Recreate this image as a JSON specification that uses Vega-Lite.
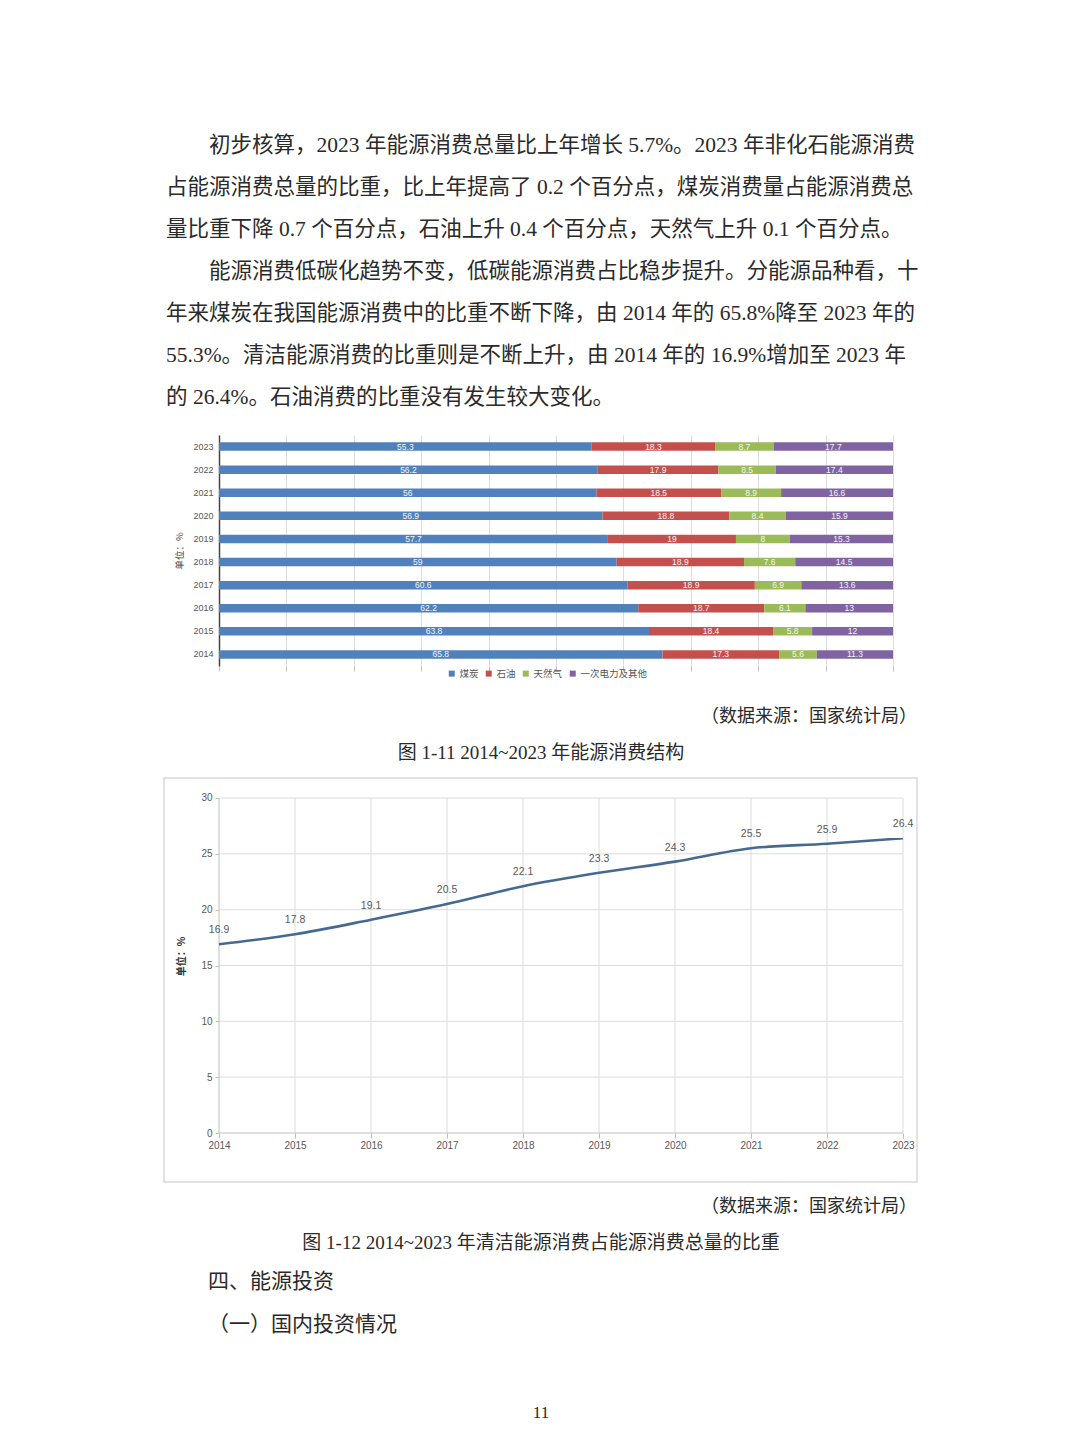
{
  "$schema": "https://vega.github.io/schema/vega-lite/v6.json",
  "background": "white",
  "padding": {"left": 163, "top": 0, "right": 0, "bottom": 0},
  "bounds": "flush",
  "spacing": 0,
  "config": {
    "view": {"stroke": null},
    "font": "Liberation Sans, Noto Sans CJK SC",
    "axis": {"labelFont": "Liberation Sans, Noto Sans CJK SC", "titleFont": "Noto Sans CJK SC"},
    "legend": {"labelFont": "Noto Sans CJK SC"}
  },
  "vconcat": [
    {
      "width": 754,
      "height": 434.5,
      "layer": [
        {
          "data": {"values": [
            {"line": 1, "text": "初步核算，2023 年能源消费总量比上年增长 5.7%。2023 年非化石能源消费"},
            {"line": 4, "text": "能源消费低碳化趋势不变，低碳能源消费占比稳步提升。分能源品种看，十"}
          ]},
          "mark": {"type": "text", "align": "left", "baseline": "middle", "font": "Liberation Serif, Noto Sans CJK SC", "fontSize": 21.5, "color": "#2a2a2a"},
          "encoding": {
            "y": {"field": "line", "type": "ordinal", "axis": null, "scale": {"type": "point", "range": [146, 398], "padding": 0, "domain": [1, 2, 3, 4, 5, 6, 7]}},
            "x": {"value": 45},
            "text": {"field": "text", "type": "nominal"}
          }
        },
        {
          "data": {"values": [
            {"line": 2, "text": "占能源消费总量的比重，比上年提高了 0.2 个百分点，煤炭消费量占能源消费总"},
            {"line": 3, "text": "量比重下降 0.7 个百分点，石油上升 0.4 个百分点，天然气上升 0.1 个百分点。"},
            {"line": 5, "text": "年来煤炭在我国能源消费中的比重不断下降，由 2014 年的 65.8%降至 2023 年的"},
            {"line": 6, "text": "55.3%。清洁能源消费的比重则是不断上升，由 2014 年的 16.9%增加至 2023 年"},
            {"line": 7, "text": "的 26.4%。石油消费的比重没有发生较大变化。"}
          ]},
          "mark": {"type": "text", "align": "left", "baseline": "middle", "font": "Liberation Serif, Noto Sans CJK SC", "fontSize": 21.5, "color": "#2a2a2a"},
          "encoding": {
            "y": {"field": "line", "type": "ordinal", "axis": null},
            "x": {"value": 2},
            "text": {"field": "text", "type": "nominal"}
          }
        }
      ]
    },
    {
      "width": 729,
      "height": 231,
      "data": {"values": [
        {"year": 2023, "type": "煤炭", "idx": 1, "value": 55.3},
        {"year": 2023, "type": "石油", "idx": 2, "value": 18.3},
        {"year": 2023, "type": "天然气", "idx": 3, "value": 8.7},
        {"year": 2023, "type": "一次电力及其他", "idx": 4, "value": 17.7},
        {"year": 2022, "type": "煤炭", "idx": 1, "value": 56.2},
        {"year": 2022, "type": "石油", "idx": 2, "value": 17.9},
        {"year": 2022, "type": "天然气", "idx": 3, "value": 8.5},
        {"year": 2022, "type": "一次电力及其他", "idx": 4, "value": 17.4},
        {"year": 2021, "type": "煤炭", "idx": 1, "value": 56},
        {"year": 2021, "type": "石油", "idx": 2, "value": 18.5},
        {"year": 2021, "type": "天然气", "idx": 3, "value": 8.9},
        {"year": 2021, "type": "一次电力及其他", "idx": 4, "value": 16.6},
        {"year": 2020, "type": "煤炭", "idx": 1, "value": 56.9},
        {"year": 2020, "type": "石油", "idx": 2, "value": 18.8},
        {"year": 2020, "type": "天然气", "idx": 3, "value": 8.4},
        {"year": 2020, "type": "一次电力及其他", "idx": 4, "value": 15.9},
        {"year": 2019, "type": "煤炭", "idx": 1, "value": 57.7},
        {"year": 2019, "type": "石油", "idx": 2, "value": 19},
        {"year": 2019, "type": "天然气", "idx": 3, "value": 8},
        {"year": 2019, "type": "一次电力及其他", "idx": 4, "value": 15.3},
        {"year": 2018, "type": "煤炭", "idx": 1, "value": 59},
        {"year": 2018, "type": "石油", "idx": 2, "value": 18.9},
        {"year": 2018, "type": "天然气", "idx": 3, "value": 7.6},
        {"year": 2018, "type": "一次电力及其他", "idx": 4, "value": 14.5},
        {"year": 2017, "type": "煤炭", "idx": 1, "value": 60.6},
        {"year": 2017, "type": "石油", "idx": 2, "value": 18.9},
        {"year": 2017, "type": "天然气", "idx": 3, "value": 6.9},
        {"year": 2017, "type": "一次电力及其他", "idx": 4, "value": 13.6},
        {"year": 2016, "type": "煤炭", "idx": 1, "value": 62.2},
        {"year": 2016, "type": "石油", "idx": 2, "value": 18.7},
        {"year": 2016, "type": "天然气", "idx": 3, "value": 6.1},
        {"year": 2016, "type": "一次电力及其他", "idx": 4, "value": 13},
        {"year": 2015, "type": "煤炭", "idx": 1, "value": 63.8},
        {"year": 2015, "type": "石油", "idx": 2, "value": 18.4},
        {"year": 2015, "type": "天然气", "idx": 3, "value": 5.8},
        {"year": 2015, "type": "一次电力及其他", "idx": 4, "value": 12},
        {"year": 2014, "type": "煤炭", "idx": 1, "value": 65.8},
        {"year": 2014, "type": "石油", "idx": 2, "value": 17.3},
        {"year": 2014, "type": "天然气", "idx": 3, "value": 5.6},
        {"year": 2014, "type": "一次电力及其他", "idx": 4, "value": 11.3}
      ]},
      "encoding": {
        "y": {
          "field": "year", "type": "ordinal", "sort": "descending",
          "scale": {"paddingInner": 0.63, "paddingOuter": 0.315},
          "axis": {
            "orient": "left", "offset": -55, "domain": true, "domainColor": "#444444", "domainWidth": 1.5,
            "ticks": false, "labelPadding": 6, "labelFontSize": 9, "labelColor": "#555555",
            "title": "单位：%", "titleFontSize": 9.5, "titleColor": "#444444", "titleFontWeight": "normal", "titlePadding": 8
          }
        }
      },
      "layer": [
        {
          "mark": {"type": "bar"},
          "encoding": {
            "x": {
              "field": "value", "type": "quantitative", "stack": "zero",
              "scale": {"domain": [-8.16, 100], "nice": false, "zero": false},
              "axis": {
                "values": [0, 10, 20, 30, 40, 50, 60, 70, 80, 90, 100], "labels": false, "domain": false,
                "ticks": true, "tickColor": "#bfbfbf", "tickSize": 5, "grid": true, "gridColor": "#dddddd", "title": null
              }
            },
            "color": {
              "field": "type", "type": "nominal",
              "scale": {"domain": ["煤炭", "石油", "天然气", "一次电力及其他"], "range": ["#5081BD", "#C4504E", "#9BBB59", "#8064A2"]},
              "legend": {
                "orient": "none", "legendX": 283, "legendY": 668.5, "direction": "horizontal", "title": null, "padding": 0,
                "symbolType": "square", "symbolSize": 36, "symbolStrokeWidth": 0, "labelFontSize": 9.5, "labelColor": "#555555",
                "labelOffset": 3, "columnPadding": 5
              }
            },
            "order": {"field": "idx", "type": "quantitative"}
          }
        },
        {
          "transform": [
            {"stack": "value", "groupby": ["year"], "sort": [{"field": "idx", "order": "ascending"}], "as": ["v0", "v1"]},
            {"fold": ["v0", "v1"], "as": ["edge", "pos"]}
          ],
          "mark": {"type": "text", "color": "#f4f4f4", "fontSize": 8.5, "baseline": "middle", "align": "center"},
          "encoding": {
            "x": {"field": "pos", "aggregate": "mean", "type": "quantitative"},
            "detail": {"field": "type", "type": "nominal"},
            "text": {"field": "value", "type": "nominal"}
          }
        }
      ]
    },
    {
      "width": 754,
      "height": 111.5,
      "layer": [
        {
          "data": {"values": [{"t": "（数据来源：国家统计局）"}]},
          "mark": {"type": "text", "align": "right", "baseline": "middle", "font": "Liberation Serif, Noto Sans CJK SC", "fontSize": 18, "color": "#2a2a2a"},
          "encoding": {"x": {"value": 753}, "y": {"value": 50.5}, "text": {"field": "t", "type": "nominal"}}
        },
        {
          "data": {"values": [{"t": "图 1-11 2014~2023 年能源消费结构"}]},
          "mark": {"type": "text", "align": "center", "baseline": "middle", "font": "Liberation Serif, Noto Sans CJK SC", "fontSize": 19, "color": "#2a2a2a"},
          "encoding": {"x": {"value": 377}, "y": {"value": 86.5}, "text": {"field": "t", "type": "nominal"}}
        }
      ]
    },
    {
      "width": 753,
      "height": 404,
      "view": {"stroke": "#d9d9d9", "strokeWidth": 1.5},
      "layer": [
        {
          "data": {"values": [{"g": 5}, {"g": 10}, {"g": 15}, {"g": 20}, {"g": 25}, {"g": 30}]},
          "mark": {"type": "rule", "color": "#dddddd", "strokeWidth": 1},
          "encoding": {
            "y": {"field": "g", "type": "quantitative", "scale": {"domain": [-4.388, 31.791], "nice": false, "zero": false}},
            "x": {"datum": 2014, "type": "quantitative", "scale": {"domain": [2013.276, 2023.184], "nice": false, "zero": false}},
            "x2": {"datum": 2023}
          }
        },
        {
          "data": {"values": [{"yr": 2015}, {"yr": 2016}, {"yr": 2017}, {"yr": 2018}, {"yr": 2019}, {"yr": 2020}, {"yr": 2021}, {"yr": 2022}, {"yr": 2023}]},
          "mark": {"type": "rule", "color": "#dddddd", "strokeWidth": 1},
          "encoding": {
            "x": {"field": "yr", "type": "quantitative"},
            "y": {"datum": 0, "type": "quantitative"},
            "y2": {"datum": 30}
          }
        },
        {
          "data": {"values": [{}]},
          "mark": {"type": "rule", "color": "#bfbfbf", "strokeWidth": 1},
          "encoding": {
            "x": {"datum": 2014, "type": "quantitative"},
            "x2": {"datum": 2023},
            "y": {"datum": 0, "type": "quantitative"}
          }
        },
        {
          "data": {"values": [{}]},
          "mark": {"type": "rule", "color": "#bfbfbf", "strokeWidth": 1},
          "encoding": {
            "x": {"datum": 2014, "type": "quantitative"},
            "y": {"datum": 0, "type": "quantitative"},
            "y2": {"datum": 30}
          }
        },
        {
          "data": {"values": [
            {"year": 2014, "share": 16.9}, {"year": 2015, "share": 17.8}, {"year": 2016, "share": 19.1},
            {"year": 2017, "share": 20.5}, {"year": 2018, "share": 22.1}, {"year": 2019, "share": 23.3},
            {"year": 2020, "share": 24.3}, {"year": 2021, "share": 25.5}, {"year": 2022, "share": 25.9},
            {"year": 2023, "share": 26.4}
          ]},
          "layer": [
            {
              "mark": {"type": "line", "interpolate": "monotone", "color": "#46698F", "strokeWidth": 2.6},
              "encoding": {
                "x": {
                  "field": "year", "type": "quantitative",
                  "axis": {
                    "orient": "bottom", "offset": -49, "values": [2014, 2015, 2016, 2017, 2018, 2019, 2020, 2021, 2022, 2023],
                    "format": "d", "domain": false, "ticks": true, "tickSize": 5, "tickColor": "#bfbfbf",
                    "labelFontSize": 10, "labelColor": "#595959", "labelPadding": 2, "grid": false, "title": null
                  }
                },
                "y": {
                  "field": "share", "type": "quantitative",
                  "axis": {
                    "orient": "left", "offset": -55, "values": [0, 5, 10, 15, 20, 25, 30], "domain": false,
                    "ticks": true, "tickSize": 4, "tickColor": "#bfbfbf", "labelFontSize": 10, "labelColor": "#595959",
                    "labelPadding": 3, "grid": false, "title": "单位：%", "titleFontSize": 10, "titleColor": "#333333",
                    "titleFontWeight": "bold", "titlePadding": 14, "titleY": 178
                  }
                }
              }
            },
            {
              "mark": {"type": "text", "dy": -14, "fontSize": 10.5, "color": "#595959", "align": "center", "baseline": "middle"},
              "encoding": {
                "x": {"field": "year", "type": "quantitative"},
                "y": {"field": "share", "type": "quantitative"},
                "text": {"field": "share", "type": "nominal"}
              }
            }
          ]
        }
      ]
    },
    {
      "width": 754,
      "height": 258,
      "layer": [
        {
          "data": {"values": [{"t": "（数据来源：国家统计局）"}]},
          "mark": {"type": "text", "align": "right", "baseline": "middle", "font": "Liberation Serif, Noto Sans CJK SC", "fontSize": 18, "color": "#2a2a2a"},
          "encoding": {"x": {"value": 753}, "y": {"value": 25}, "text": {"field": "t", "type": "nominal"}}
        },
        {
          "data": {"values": [{"t": "图 1-12 2014~2023 年清洁能源消费占能源消费总量的比重"}]},
          "mark": {"type": "text", "align": "center", "baseline": "middle", "font": "Liberation Serif, Noto Sans CJK SC", "fontSize": 19, "color": "#2a2a2a"},
          "encoding": {"x": {"value": 377}, "y": {"value": 61}, "text": {"field": "t", "type": "nominal"}}
        },
        {
          "data": {"values": [{"t": "四、能源投资"}]},
          "mark": {"type": "text", "align": "left", "baseline": "middle", "font": "Liberation Serif, Noto Sans CJK SC", "fontSize": 21, "color": "#2a2a2a"},
          "encoding": {"x": {"value": 44}, "y": {"value": 100}, "text": {"field": "t", "type": "nominal"}}
        },
        {
          "data": {"values": [{"t": "（一）国内投资情况"}]},
          "mark": {"type": "text", "align": "left", "baseline": "middle", "font": "Liberation Serif, Noto Sans CJK SC", "fontSize": 21, "color": "#2a2a2a"},
          "encoding": {"x": {"value": 44}, "y": {"value": 143}, "text": {"field": "t", "type": "nominal"}}
        },
        {
          "data": {"values": [{"t": "11"}]},
          "mark": {"type": "text", "align": "center", "baseline": "middle", "font": "Liberation Serif", "fontSize": 17, "color": "#2a2a2a"},
          "encoding": {"x": {"value": 377}, "y": {"value": 231}, "text": {"field": "t", "type": "nominal"}}
        }
      ]
    }
  ]
}
